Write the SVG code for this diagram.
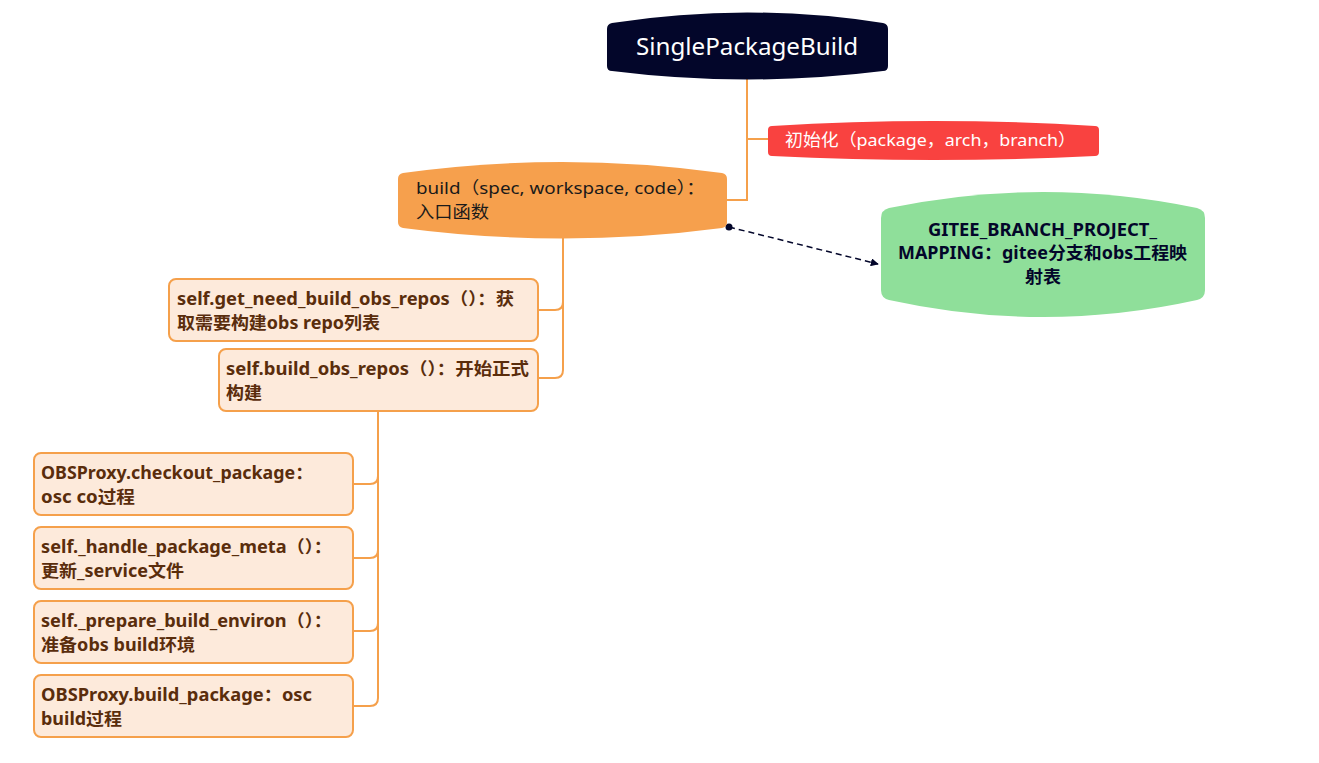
<svg xmlns="http://www.w3.org/2000/svg" width="1319" height="763" viewBox="0 0 1319 763">
<defs>
<style>
.conn{fill:none;stroke:#f5a04b;stroke-width:2}
.leaf{fill:#fdeadb;stroke:#f5a04b;stroke-width:2}
.lt{font-family:"Noto Sans","Noto Sans CJK SC",sans-serif;font-size:17px;font-weight:bold;fill:#5a2d0c}
.t{font-family:"Noto Sans","Noto Sans CJK SC",sans-serif;font-size:17px}
</style>
<marker id="arr" viewBox="0 0 10 10" refX="9" refY="5" markerWidth="8" markerHeight="8" orient="auto" markerUnits="userSpaceOnUse">
<path d="M0,0 L10,5 L0,10 Z" fill="#03062a"/>
</marker>
</defs>
<rect width="1319" height="763" fill="#ffffff"/>
<g id="connectors">
<path class="conn" d="M747,79 V200 H727"/>
<path class="conn" d="M747,139 H768"/>
<path class="conn" d="M563,238 V302 Q563,310 555,310 H538"/>
<path class="conn" d="M563,300 V370 Q563,378 555,378 H538"/>
<path class="conn" d="M378,411 V476 Q378,484 370,484 H353"/>
<path class="conn" d="M378,470 V550 Q378,558 370,558 H353"/>
<path class="conn" d="M378,545 V623 Q378,631 370,631 H353"/>
<path class="conn" d="M378,620 V698 Q378,706 370,706 H353"/>
<path d="M729,227 L878,264" fill="none" stroke="#03062a" stroke-width="1.5" stroke-dasharray="6,4" marker-end="url(#arr)"/>
<circle cx="729" cy="227" r="3.5" fill="#03062a"/>
</g>
<g id="root">
<path d="M612,23 Q747,2 883,23 Q888,24 888,29 L888,66 Q888,71 883,71 Q747,88 612,71 Q607,71 607,66 L607,29 Q607,24 612,23 Z" fill="#03062a"/>
<text x="636" y="55" textLength="222" lengthAdjust="spacingAndGlyphs" font-family="'Noto Sans',sans-serif" font-size="24" fill="#ffffff">SinglePackageBuild</text>
</g>
<g id="init">
<path d="M772,126 Q933,116 1095,126 Q1099,126 1099,130 L1099,152 Q1099,156 1095,156 Q933,164 772,156 Q768,156 768,152 L768,130 Q768,126 772,126 Z" fill="#f94240"/>
<text x="785" y="146" textLength="291" lengthAdjust="spacingAndGlyphs" class="t" fill="#ffffff">初始化（package，arch，branch）</text>
</g>
<g id="build">
<path d="M403,173 Q562,151 722,173 Q727,174 727,179 L727,222 Q727,227 722,228 Q562,249 403,228 Q398,227 398,222 L398,179 Q398,174 403,173 Z" fill="#f6a04d"/>
<text x="416" y="194" textLength="289" lengthAdjust="spacingAndGlyphs" class="t" fill="#1a1a1a">build（spec, workspace, code）：</text>
<text x="416" y="218" textLength="73" lengthAdjust="spacingAndGlyphs" class="t" fill="#1a1a1a">入口函数</text>
</g>
<g id="mapping">
<path d="M889,208 Q1043,176 1197,208 Q1205,210 1205,218 L1205,290 Q1205,298 1197,300 Q1043,334 889,300 Q881,298 881,290 L881,218 Q881,210 889,208 Z" fill="#8fdf9a"/>
<text x="928" y="236" textLength="229" lengthAdjust="spacingAndGlyphs" class="t" font-weight="bold" fill="#03062a">GITEE_BRANCH_PROJECT_</text>
<text x="898" y="259" textLength="289" lengthAdjust="spacingAndGlyphs" class="t" font-weight="bold" fill="#03062a">MAPPING：gitee分支和obs工程映</text>
<text x="1025" y="283" textLength="36" lengthAdjust="spacingAndGlyphs" class="t" font-weight="bold" fill="#03062a">射表</text>
</g>
<g id="get_repos">
<rect class="leaf" x="169" y="279" width="369" height="62" rx="7"/>
<text x="177" y="305" textLength="337" lengthAdjust="spacingAndGlyphs" class="lt">self.get_need_build_obs_repos（）：获</text>
<text x="177" y="329" textLength="203" lengthAdjust="spacingAndGlyphs" class="lt">取需要构建obs repo列表</text>
</g>
<g id="build_repos">
<rect class="leaf" x="219" y="349" width="319" height="62" rx="7"/>
<text x="226" y="375" textLength="303" lengthAdjust="spacingAndGlyphs" class="lt">self.build_obs_repos（）：开始正式</text>
<text x="226" y="399" textLength="36" lengthAdjust="spacingAndGlyphs" class="lt">构建</text>
</g>
<g id="checkout">
<rect class="leaf" x="34" y="453" width="319" height="62" rx="7"/>
<text x="41" y="479" textLength="272" lengthAdjust="spacingAndGlyphs" class="lt">OBSProxy.checkout_package：</text>
<text x="41" y="503" textLength="94" lengthAdjust="spacingAndGlyphs" class="lt">osc co过程</text>
</g>
<g id="meta">
<rect class="leaf" x="34" y="527" width="319" height="62" rx="7"/>
<text x="41" y="553" textLength="291" lengthAdjust="spacingAndGlyphs" class="lt">self._handle_package_meta（）：</text>
<text x="41" y="577" textLength="143" lengthAdjust="spacingAndGlyphs" class="lt">更新_service文件</text>
</g>
<g id="environ">
<rect class="leaf" x="34" y="601" width="319" height="62" rx="7"/>
<text x="41" y="627" textLength="291" lengthAdjust="spacingAndGlyphs" class="lt">self._prepare_build_environ（）：</text>
<text x="41" y="651" textLength="154" lengthAdjust="spacingAndGlyphs" class="lt">准备obs build环境</text>
</g>
<g id="build_pkg">
<rect class="leaf" x="34" y="675" width="319" height="62" rx="7"/>
<text x="41" y="701" textLength="271" lengthAdjust="spacingAndGlyphs" class="lt">OBSProxy.build_package：osc</text>
<text x="41" y="725" textLength="81" lengthAdjust="spacingAndGlyphs" class="lt">build过程</text>
</g>
</svg>
